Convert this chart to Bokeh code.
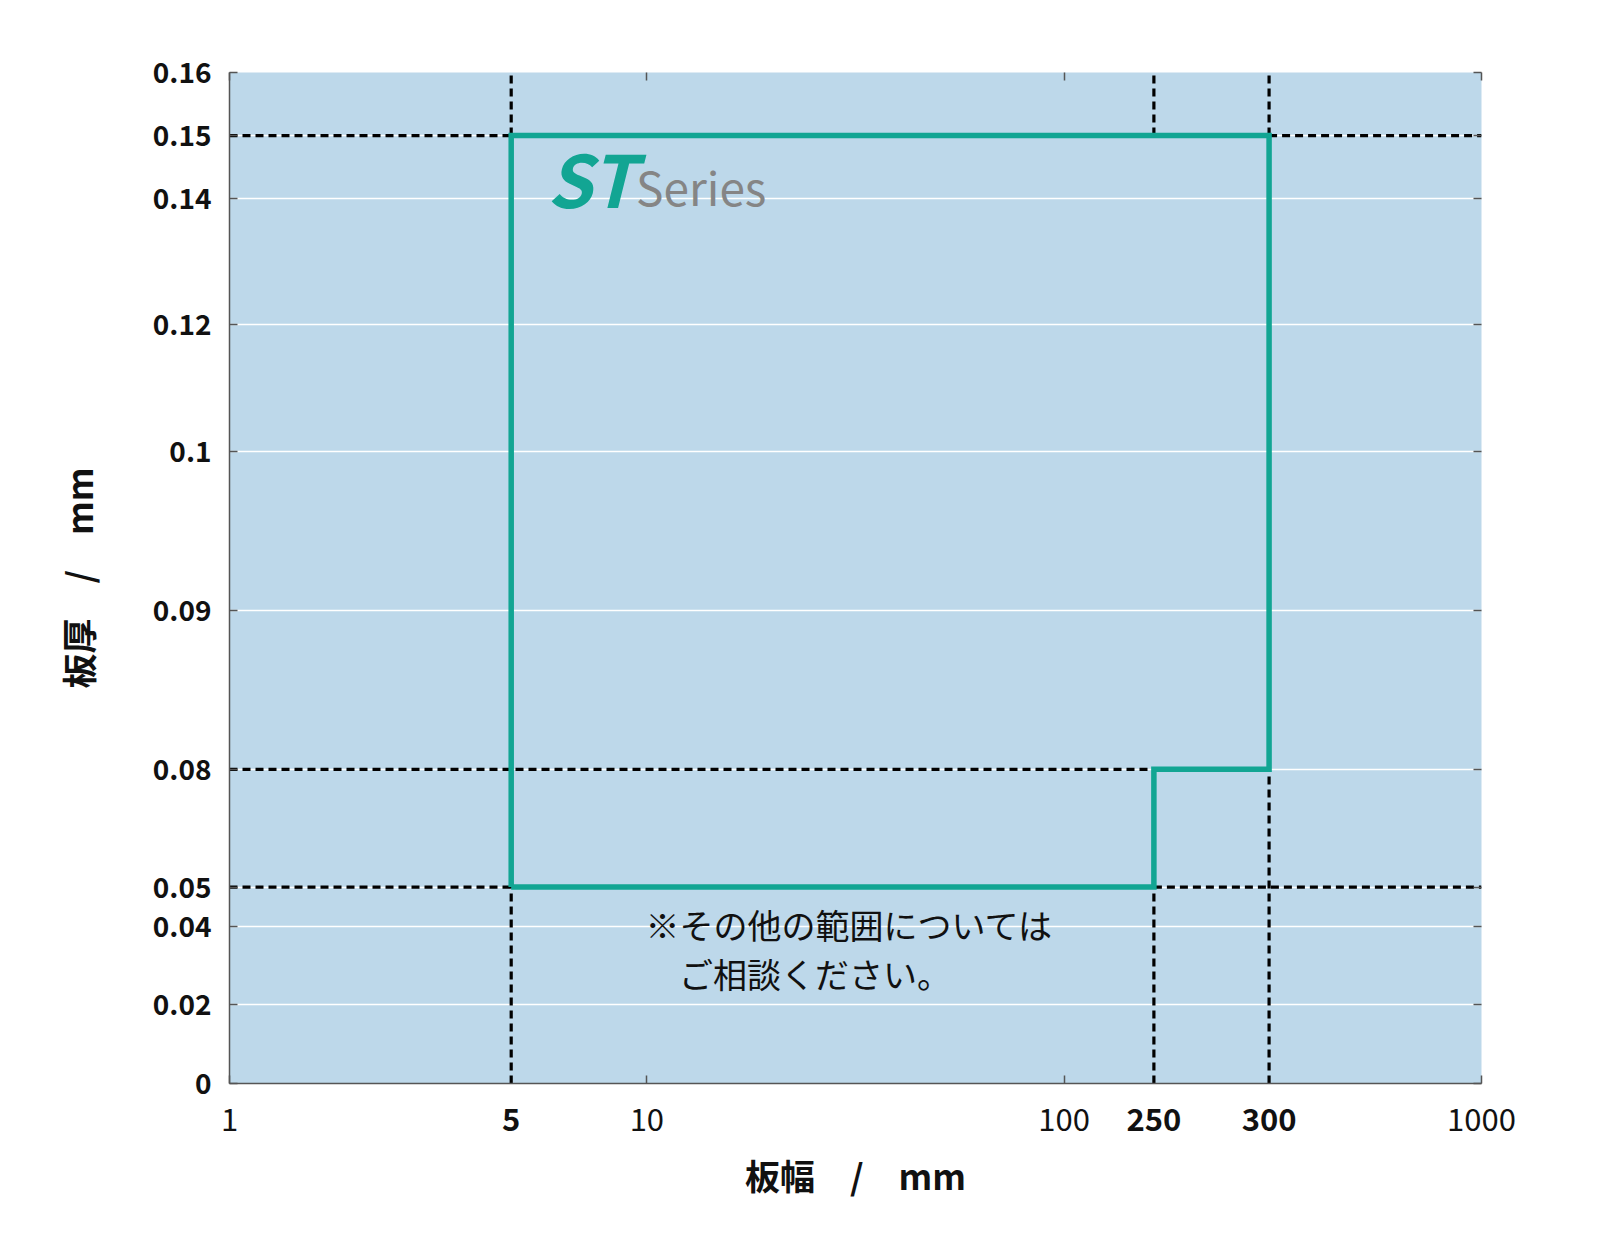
import numpy as np
from bokeh.plotting import figure
from bokeh.models import Range1d, FixedTicker, LinearAxis, Label, ColumnDataSource
from bokeh.embed import file_html
from bokeh.resources import INLINE

# ---------------- data ----------------
width_ticks = [1, 10, 100, 1000]
width_tick_labels = ["1", "10", "100", "1000"]
width_marks = [5, 250, 300]
width_mark_labels = ["5", "250", "300"]

thick_ticks = [0, 0.02, 0.04, 0.05, 0.08, 0.09, 0.1, 0.12, 0.14, 0.15, 0.16]
thick_tick_labels = ["0", "0.02", "0.04", "0.05", "0.08", "0.09", "0.1",
                     "0.12", "0.14", "0.15", "0.16"]

# ST series available range (outline)
range_width = [5, 5, 300, 300, 250, 250, 5]
range_thick = [0.05, 0.15, 0.15, 0.08, 0.08, 0.05, 0.05]

# dashed guide segments (width, thickness)
guide_w0 = [1, 300, 1, 1, 250, 5, 5, 250, 250, 300, 300]
guide_w1 = [5, 1000, 250, 5, 1000, 5, 5, 250, 250, 300, 300]
guide_t0 = [0.15, 0.15, 0.08, 0.05, 0.05, 0.15, 0.0, 0.15, 0.0, 0.15, 0.0]
guide_t1 = [0.15, 0.15, 0.08, 0.05, 0.05, 0.16, 0.05, 0.16, 0.05, 0.16, 0.08]

# schematic (broken) axis scales: value -> axis position
x_scale_vals = [1, 5, 10, 100, 250, 300, 1000]
x_scale_pos = [0.0, 0.675, 1.0, 2.0, 2.215, 2.491, 3.0]
y_scale_vals = [0, 0.08, 0.10, 0.16]
y_scale_pos = [0.0, 0.3108, 0.6256, 1.0]


def fx(v):
    return np.interp(np.log10(np.asarray(v, dtype=float)), np.log10(x_scale_vals), x_scale_pos)


def fy(v):
    return np.interp(np.asarray(v, dtype=float), y_scale_vals, y_scale_pos)


FONT = "Noto Sans CJK JP"
TEAL = "#12A593"
AXIS_C = "#555555"
XLABEL_H = 26  # height taken by one row of x tick labels

p = figure(width=1584, height=1225,
           x_range=Range1d(x_scale_pos[0], x_scale_pos[-1]),
           y_range=Range1d(y_scale_pos[0], y_scale_pos[-1]),
           output_backend="svg", toolbar_location=None,
           min_border_left=229, min_border_top=72,
           min_border_right=103, min_border_bottom=142,
           background_fill_color="#BDD8EA", border_fill_color="white",
           outline_line_color=None)

# grid
p.xgrid.visible = False
yt_pos = [float(v) for v in fy(thick_ticks)]
p.ygrid.ticker = FixedTicker(ticks=yt_pos)
p.ygrid.grid_line_color = "white"
p.ygrid.grid_line_width = 1.5


def style_axis(ax, bold=False, size="31px"):
    ax.axis_line_color = AXIS_C
    ax.axis_line_width = 1.5
    ax.major_tick_line_color = AXIS_C
    ax.major_tick_line_width = 1.5
    ax.major_tick_in = 8
    ax.major_tick_out = 0
    ax.minor_tick_line_color = None
    ax.major_label_text_font = FONT
    ax.major_label_text_font_size = size
    ax.major_label_text_color = "#111111"
    ax.major_label_text_font_style = "bold" if bold else "normal"
    ax.axis_label_text_font = FONT
    ax.axis_label_text_font_size = "35px"
    ax.axis_label_text_font_style = "bold"
    ax.axis_label_text_color = "#111111"


# bottom axis (regular ticks 1, 10, 100, 1000)
xt_pos = [float(v) for v in fx(width_ticks)]
xa = p.xaxis[0]
style_axis(xa)
xa.ticker = FixedTicker(ticks=xt_pos)
xa.major_label_overrides = {k: s for k, s in zip(xt_pos, width_tick_labels)}
xa.major_label_standoff = 24

# second bottom axis (bold marks 5, 250, 300), labels pulled back onto the same row
xm_pos = [float(v) for v in fx(width_marks)]
xb = LinearAxis()
style_axis(xb, bold=True)
xb.axis_line_color = None
xb.major_tick_line_color = None
xb.ticker = FixedTicker(ticks=xm_pos)
xb.major_label_overrides = {k: s for k, s in zip(xm_pos, width_mark_labels)}
xb.major_label_standoff = -XLABEL_H
xb.axis_label = "板幅　/　mm"
xb.axis_label_standoff = 15
p.add_layout(xb, "below")

# left axis
ya = p.yaxis[0]
style_axis(ya, bold=True, size="28px")
ya.ticker = FixedTicker(ticks=yt_pos)
ya.major_label_overrides = {k: s for k, s in zip(yt_pos, thick_tick_labels)}
ya.major_label_standoff = 18
ya.axis_label = "板厚　/　mm"
ya.axis_label_standoff = 47

# mirrored tick axes on top and right (no labels)
xtop = LinearAxis()
style_axis(xtop)
xtop.axis_line_color = None
xtop.ticker = FixedTicker(ticks=xt_pos)
xtop.major_label_overrides = {k: "" for k in xt_pos}
p.add_layout(xtop, "above")

yright = LinearAxis()
style_axis(yright)
yright.axis_line_color = None
yright.ticker = FixedTicker(ticks=yt_pos)
yright.major_label_overrides = {k: "" for k in yt_pos}
p.add_layout(yright, "right")

# dashed guides
gsrc = ColumnDataSource(dict(x0=fx(guide_w0), x1=fx(guide_w1),
                             y0=fy(guide_t0), y1=fy(guide_t1)))
p.segment(x0="x0", y0="y0", x1="x1", y1="y1", source=gsrc,
          line_color="black", line_width=3.2, line_dash="8 5")

# ST series outline
p.line(fx(range_width), fy(range_thick), line_color=TEAL, line_width=5.5,
       line_join="miter")

# texts
p.add_layout(Label(x=0.761, y=0.8976, text="ST", text_font=FONT,
                   text_font_style="bold italic", text_font_size="72px",
                   text_color=TEAL, text_baseline="alphabetic"))
p.add_layout(Label(x=0.974, y=0.888, text="Series", text_font=FONT,
                   text_font_size="46px", text_color="#858585",
                   text_baseline="alphabetic"))
p.add_layout(Label(x=0.997, y=0.1574, text="※その他の範囲については", text_font=FONT,
                   text_font_size="34px", text_color="#111111",
                   text_baseline="middle"))
p.add_layout(Label(x=1.077, y=0.109, text="ご相談ください。", text_font=FONT,
                   text_font_size="34px", text_color="#111111",
                   text_baseline="middle"))

open("out.html", "w").write(file_html(p, INLINE))
